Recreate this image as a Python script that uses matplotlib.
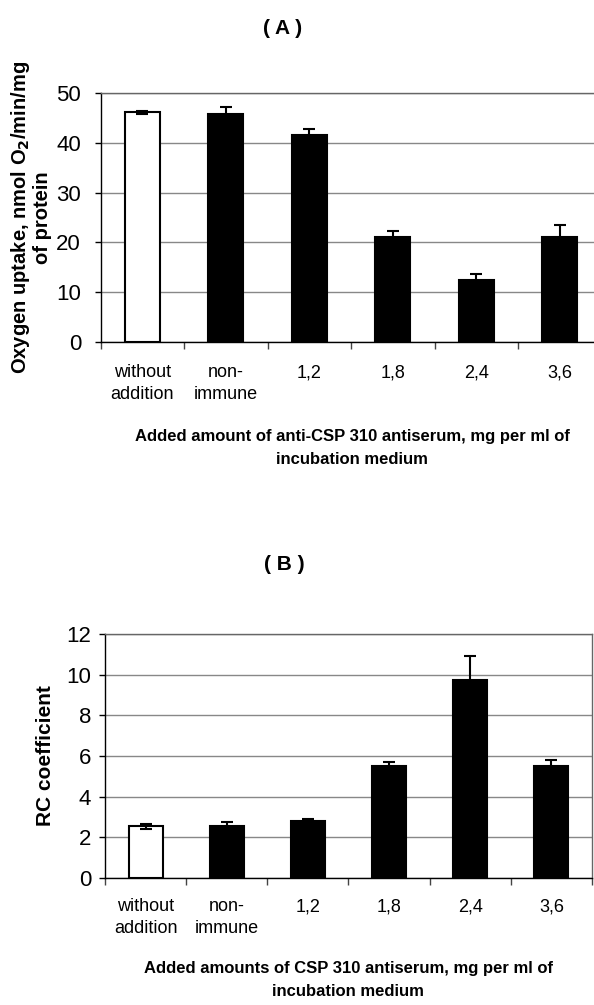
import numpy as np
import matplotlib.pyplot as plt

plt.rcParams['font.family'] = ['Liberation Sans', 'DejaVu Sans']

categories = ['without\naddition', 'non-\nimmune', '1,2', '1,8', '2,4', '3,6']
bar_colors = ['white', 'black', 'black', 'black', 'black', 'black']

# panel A: oxygen uptake
uptake = [46.1, 45.7, 41.5, 21.0, 12.4, 21.0]
uptake_err = [0.3, 1.4, 1.3, 1.3, 1.3, 2.4]

# panel B: RC coefficient
rc = [2.55, 2.56, 2.82, 5.51, 9.75, 5.53]
rc_err = [0.12, 0.19, 0.09, 0.19, 1.15, 0.27]

fig = plt.figure(figsize=(5.94, 10.05), dpi=100)
x = np.arange(len(categories))


def draw(ax, vals, errs, ymax, ystep, ypad):
    ax.set_axisbelow(True)
    ax.grid(axis='y', color='#888888', lw=1.0)
    ax.bar(x, vals, width=0.42, color=bar_colors, edgecolor='black', lw=1.5, zorder=2)
    ax.errorbar(x, vals, yerr=errs, fmt='none', ecolor='black', elinewidth=1.5,
                capsize=4, capthick=1.5, zorder=3)
    ax.set_ylim(0, ymax)
    ax.set_yticks(np.arange(0, ymax + 0.1, ystep))
    ax.tick_params(axis='y', labelsize=16, length=4, width=1, pad=ypad)
    ax.set_xticks(x)
    ax.set_xticklabels([])
    ax.tick_params(axis='x', length=0)
    ax.set_xticks(np.append(x - 0.5, 5.5), minor=True)
    ax.tick_params(axis='x', which='minor', length=5, width=1, color='#444444')
    for s in ax.spines.values():
        s.set_linewidth(1.0)
    ax.spines['left'].set_color('black')
    ax.spines['bottom'].set_color('black')
    ax.spines['top'].set_color('#666666')
    ax.spines['right'].set_color('#666666')


def cat_labels(ax, y_px):
    # two-line category labels, top line at y_px (figure pixels)
    for xi, lab in zip(x, categories):
        xf = fig.transFigure.inverted().transform(ax.transData.transform((xi, 0)))[0]
        fig.text(xf, 1 - y_px / 1005, lab, fontsize=13, ha='center', va='top',
                 linespacing=1.35)


# (A)
axA = fig.add_axes([100.5 / 594, 1 - 342 / 1005, 493.5 / 594, 249 / 1005])
draw(axA, uptake, uptake_err, 50, 10, 10)
axA.set_xlim(-0.5, -0.5 + 493.5 / 83.5)
axA.spines['right'].set_visible(False)
axA.set_ylabel('Oxygen uptake, nmol O$_\\mathbf{2}$/min/mg\nof protein',
               fontsize=14.5, fontweight='bold', linespacing=1.1, labelpad=3)
cat_labels(axA, 364)
fig.text(283 / 594, 1 - 29 / 1005, '( A )', fontsize=15, fontweight='bold',
         ha='center', va='center')
fig.text(352 / 594, 1 - 448 / 1005,
         'Added amount of anti-CSP 310 antiserum, mg per ml of\nincubation medium',
         fontsize=12, fontweight='bold', ha='center', va='center', linespacing=1.6)

# (B)
axB = fig.add_axes([105 / 594, 1 - 878 / 1005, 487 / 594, 244 / 1005])
draw(axB, rc, rc_err, 12, 2, 6)
axB.set_xlim(-0.5, 5.5)
axB.set_ylabel('RC coefficient', fontsize=15, fontweight='bold', labelpad=8)
cat_labels(axB, 898)
fig.text(284 / 594, 1 - 565 / 1005, '( B )', fontsize=15, fontweight='bold',
         ha='center', va='center')
fig.text(348 / 594, 1 - 980 / 1005,
         'Added amounts of CSP 310 antiserum, mg per ml of\nincubation medium',
         fontsize=12, fontweight='bold', ha='center', va='center', linespacing=1.6)

fig.savefig('out.png', dpi=100)
